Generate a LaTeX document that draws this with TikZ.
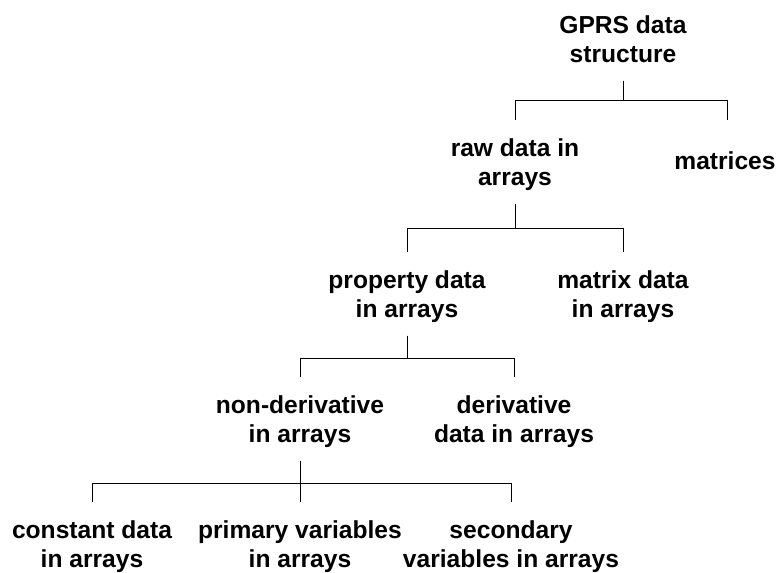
\documentclass[tikz,border=0pt]{standalone}
\usepackage{fontspec}
\setmainfont{Liberation Sans}
\usepackage{tikz}

\begin{document}
\begin{tikzpicture}[x=1pt, y=-1pt,
	entry/.style={align=center, inner xsep=0pt, inner ysep=18pt, text depth=0pt, anchor=north,
		font=\fontsize{24.6}{29.5}\selectfont\bfseries},
	link/.style={line width=1pt}]
	\useasboundingbox (0,0) rectangle (780,573);
	\node[entry] (G) at (623,-3) {GPRS data\\structure};
	\node[entry] (R) at (515,120) {raw data in\\arrays};
	\node[entry, anchor=base] (M) at (725,169) {matrices};
	\node[entry] (P) at (407,252) {property data\\in arrays};
	\node[entry] (MD) at (623,252) {matrix data\\in arrays};
	\node[entry] (N) at (300,377) {non-derivative\\in arrays};
	\node[entry] (D) at (514,377) {derivative\\data in arrays};
	\node[entry] (C) at (92,502) {constant data\\in arrays};
	\node[entry] (PV) at (300,502) {primary variables\\in arrays};
	\node[entry] (SV) at (511,502) {secondary\\variables in arrays};
	\draw[link] (G.south) -- ++(0,20) -| (R.north);
	\draw[link] (G.south) -- ++(0,20) -| (R.north -| 727,0);
	\draw[link] (R.south) -- ++(0,25) -| (P.north);
	\draw[link] (R.south) -- ++(0,25) -| (MD.north);
	\draw[link] (P.south) -- ++(0,23) -| (N.north);
	\draw[link] (P.south) -- ++(0,23) -| (D.north);
	\draw[link] (N.south) -- ++(0,23) -| (C.north);
	\draw[link] (N.south) -- (PV.north);
	\draw[link] (N.south) -- ++(0,23) -| (SV.north);
\end{tikzpicture}
\end{document}
